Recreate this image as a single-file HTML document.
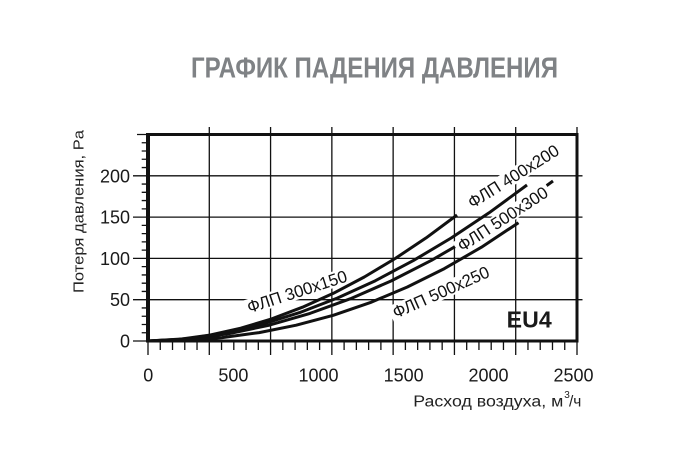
<!DOCTYPE html>
<html><head><meta charset="utf-8">
<style>
html,body{margin:0;padding:0;background:#fff;}
svg{display:block;}
text{font-family:"Liberation Sans","DejaVu Sans",sans-serif;}
</style></head>
<body>
<svg width="691" height="472" viewBox="0 0 691 472" xmlns="http://www.w3.org/2000/svg">
<rect width="691" height="472" fill="#fff"/>
<!-- Title -->
<text x="191" y="77.3" font-size="29" font-weight="bold" fill="#7f8285" textLength="367" lengthAdjust="spacingAndGlyphs">ГРАФИК ПАДЕНИЯ ДАВЛЕНИЯ</text>

<!-- grid lines -->
<g stroke="#111" stroke-width="1.3" fill="none">
<path d="M148 299.7H582.5M148 258.4H582.5M148 217.1H582.5M148 175.8H582.5"/>
<path d="M209.29 127V355M270.57 127V355M331.86 127V355M393.14 127V355M454.43 127V355M515.71 127V355M148 341V355M577 127V355"/>
<path d="M160.26 341V350M172.51 341V350M184.77 341V350M197.03 341V350M221.54 341V350M233.8 341V350M246.06 341V350M258.31 341V350M282.83 341V350M295.09 341V350M307.34 341V350M319.6 341V350M344.11 341V350M356.37 341V350M368.63 341V350M380.89 341V350M405.4 341V350M417.66 341V350M429.91 341V350M442.17 341V350M466.69 341V350M478.94 341V350M491.2 341V350M503.46 341V350M527.97 341V350M540.23 341V350M552.49 341V350M564.74 341V350"/>
<path d="M141.7 332.74H148M141.7 324.48H148M141.7 316.22H148M141.7 307.96H148M141.7 291.44H148M141.7 283.18H148M141.7 274.92H148M141.7 266.66H148M141.7 250.14H148M141.7 241.88H148M141.7 233.62H148M141.7 225.36H148M141.7 208.84H148M141.7 200.58H148M141.7 192.32H148M141.7 184.06H148M141.7 167.54H148M141.7 159.28H148M141.7 151.02H148M141.7 142.76H148"/>
<path d="M133 341H148M133 299.7H148M133 258.4H148M133 217.1H148M133 175.8H148M137 134.5H148"/>
</g>

<!-- label backgrounds (under curves) -->
<g transform="translate(297,291.5) rotate(-18)"><rect x="-55" y="-8" width="110" height="16" fill="#fff"/></g>
<g transform="translate(513.3,176.2) rotate(-32)"><rect x="-55" y="-8" width="110" height="16" fill="#fff"/></g>
<g transform="translate(440.8,292) rotate(-24)"><rect x="-55" y="-8" width="110" height="16" fill="#fff"/></g>

<!-- curves -->
<g stroke="#111" stroke-width="3" fill="none" stroke-linejoin="round" stroke-linecap="butt">
<polyline points="148,341 178.9,339.4 209.8,335.1 240.7,328.2 271.6,318.9 302.5,307.2 333.4,293.3 364.3,277 395.2,258.5 426.1,237.9 457,215"/>
<polyline points="148,341 185.9,338.8 223.8,333.2 261.7,324.4 299.6,312.6 337.5,298 375.4,280.7 413.3,260.6 451.2,238 489.1,212.8 527,185"/>
<polyline points="148,341 188.5,339.1 229,333.7 269.5,325.1 310,313.4 350.5,298.7 391,281 431.5,260.3 472,236.8 512.5,210.3 553,181"/>
<polyline points="148,341 185.05,340.3 222.1,337.6 259.15,332.6 296.2,325.2 333.25,315.3 370.3,302.6 407.35,287 444.4,268.6 481.45,247.2 518.5,222.7"/>
</g>

<!-- 500x300 label background covers its curve -->
<g transform="translate(502.6,218.9) rotate(-33)"><rect x="-55" y="-7.5" width="110" height="15" fill="#fff"/></g>

<!-- frame -->
<g stroke="#111" fill="none">
<path d="M146.5 134.5H578.5" stroke-width="3"/>
<path d="M146.5 341H578.5" stroke-width="3"/>
<path d="M577 133V342.5" stroke-width="3"/>
<path d="M148 133V342.5" stroke-width="4"/>
</g>

<!-- curve labels -->
<g font-size="17" fill="#111">
<g transform="translate(297,291.5) rotate(-18)"><text x="0" y="6" text-anchor="middle" textLength="104" lengthAdjust="spacingAndGlyphs">ФЛП 300x150</text></g>
<g transform="translate(513.3,176.2) rotate(-32)"><text x="0" y="6" text-anchor="middle" textLength="104" lengthAdjust="spacingAndGlyphs">ФЛП 400x200</text></g>
<g transform="translate(502.6,218.9) rotate(-33)"><text x="0" y="6" text-anchor="middle" textLength="104" lengthAdjust="spacingAndGlyphs">ФЛП 500x300</text></g>
<g transform="translate(440.8,292) rotate(-24)"><text x="0" y="6" text-anchor="middle" textLength="104" lengthAdjust="spacingAndGlyphs">ФЛП 500x250</text></g>
</g>

<!-- EU4 -->
<text x="506.7" y="327.3" font-size="23" font-weight="bold" fill="#1a1a1a" textLength="45" lengthAdjust="spacingAndGlyphs">EU4</text>

<!-- y tick labels -->
<g font-size="18" fill="#1a1a1a" text-anchor="end">
<text x="130" y="182.3">200</text>
<text x="130" y="223.6">150</text>
<text x="130" y="264.9">100</text>
<text x="130" y="306.2">50</text>
<text x="130" y="347.5">0</text>
</g>

<!-- x tick labels -->
<g font-size="18" fill="#1a1a1a" text-anchor="middle">
<text x="148.3" y="381.7">0</text>
<text x="233.4" y="381.7">500</text>
<text x="318.5" y="381.7">1000</text>
<text x="403.6" y="381.7">1500</text>
<text x="488.5" y="381.7">2000</text>
<text x="573.5" y="381.7">2500</text>
</g>

<!-- axis titles -->
<text transform="translate(83.5,211.5) rotate(-90)" text-anchor="middle" font-size="15" fill="#222" textLength="163" lengthAdjust="spacingAndGlyphs">Потеря давления, Pa</text>
<text x="413.3" y="406.7" font-size="15.5" fill="#222" textLength="150" lengthAdjust="spacingAndGlyphs">Расход воздуха, м</text>
<text x="564.3" y="398" font-size="10" fill="#222">3</text>
<text x="569" y="406.7" font-size="15.5" fill="#222">/ч</text>
</svg>
</body></html>
